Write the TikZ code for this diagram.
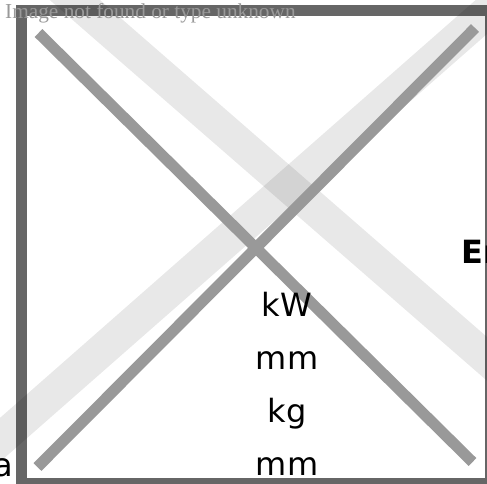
\documentclass[tikz,border=0pt]{standalone}
\usepackage{fontspec}
\setmainfont{DejaVu Sans}
\newfontfamily\msgfont{Liberation Serif}
\definecolor{framegray}{HTML}{666666}
\definecolor{crossgray}{HTML}{999999}
\definecolor{msggray}{HTML}{999999}
\tikzset{
  framebox/.style={draw=framegray,line width=11pt},
  band/.style={draw=black,draw opacity=0.09,line width=33pt},
  crossline/.style={draw=crossgray,line width=11pt},
  unitlabel/.style={font=\fontsize{32}{32}\selectfont,text=black,inner sep=0pt,anchor=base},
  msg/.style={font=\msgfont\fontsize{21.3}{21.3}\selectfont,text=msggray,inner sep=0pt,anchor=base west}
}
\begin{document}
\begin{tikzpicture}[x=1pt,y=-1pt]
\useasboundingbox (0,0) rectangle (487,483);
\clip (0,0) rectangle (487,483);
\fill[white] (0,0) rectangle (487,483);
\draw[framebox] (21.5,10.5) rectangle (490.5,483.5);
\coordinate (b1a) at (-40,-100); \coordinate (b1b) at (540,405);
\coordinate (b2a) at (-40,475); \coordinate (b2b) at (520,-17);
\draw[band] (b1a) -- (b1b);
\draw[band] (b2a) -- (b2b);
\coordinate (tl) at (38.5,33); \coordinate (br) at (472.5,462);
\coordinate (tr) at (475,28); \coordinate (bl) at (37.5,467);
\draw[crossline] (tl) -- (br);
\draw[crossline] (tr) -- (bl);
\node[unitlabel] (kw) at (287,316) {kW};
\node[unitlabel] (mma) at (287,369) {mm};
\node[unitlabel] (kg) at (287,422) {kg};
\node[unitlabel] (mmb) at (287,475) {mm};
\node[unitlabel,anchor=base east] (a) at (13,476) {a};
\node[unitlabel,anchor=base west,font=\bfseries\fontsize{32}{32}\selectfont] (e) at (461,263) {En};
\node[msg] (msgn) at (5,18) {Image not found or type unknown};
\end{tikzpicture}
\end{document}
